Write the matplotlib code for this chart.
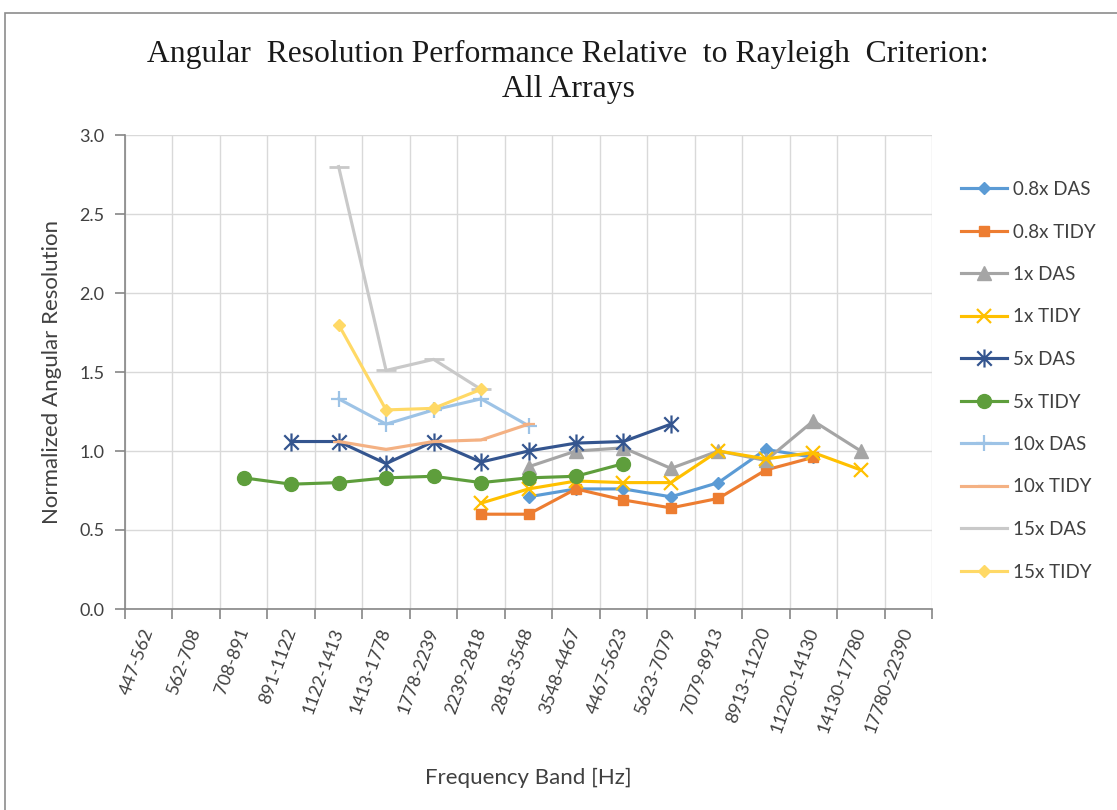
import numpy as np
import matplotlib
matplotlib.use("Agg")
import matplotlib.pyplot as plt
from matplotlib.path import Path
from matplotlib.patches import Rectangle

nan = np.nan

categories = ["447-562", "562-708", "708-891", "891-1122", "1122-1413", "1413-1778",
              "1778-2239", "2239-2818", "2818-3548", "3548-4467", "4467-5623",
              "5623-7079", "7079-8913", "8913-11220", "11220-14130", "14130-17780",
              "17780-22390"]

das_08 = [nan] * 8 + [0.71, 0.76, 0.76, 0.71, 0.80, 1.01, 0.96] + [nan] * 2
tidy_08 = [nan] * 7 + [0.60, 0.60, 0.76, 0.69, 0.64, 0.70, 0.88, 0.96] + [nan] * 2
das_1 = [nan] * 8 + [0.90, 1.00, 1.02, 0.89, 1.00, 0.94, 1.19, 1.00] + [nan]
tidy_1 = [nan] * 7 + [0.67, 0.76, 0.81, 0.80, 0.80, 1.00, 0.95, 0.99, 0.88] + [nan]
das_5 = [nan] * 3 + [1.06, 1.06, 0.92, 1.06, 0.93, 1.00, 1.05, 1.06, 1.17] + [nan] * 5
tidy_5 = [nan] * 2 + [0.83, 0.79, 0.80, 0.83, 0.84, 0.80, 0.83, 0.84, 0.92] + [nan] * 6
das_10 = [nan] * 4 + [1.33, 1.17, 1.26, 1.33, 1.16] + [nan] * 8
tidy_10 = [nan] * 4 + [1.06, 1.01, 1.06, 1.07, 1.17] + [nan] * 8
das_15 = [nan] * 4 + [2.80, 1.51, 1.58, 1.39] + [nan] * 9
tidy_15 = [nan] * 4 + [1.80, 1.26, 1.27, 1.39] + [nan] * 9

series_names = ["0.8x DAS", "0.8x TIDY", "1x DAS", "1x TIDY", "5x DAS", "5x TIDY",
                "10x DAS", "10x TIDY", "15x DAS", "15x TIDY"]
series_values = [das_08, tidy_08, das_1, tidy_1, das_5, tidy_5,
                 das_10, tidy_10, das_15, tidy_15]

# asterisk marker: an X crossed by a vertical bar
star_path = Path(
    [(-1, -1), (1, 1), (-1, 1), (1, -1), (0, -1.25), (0, 1.25)],
    [Path.MOVETO, Path.LINETO, Path.MOVETO, Path.LINETO, Path.MOVETO, Path.LINETO],
)

styles = [
    dict(color="#5B9BD5", marker="D", ms=6),
    dict(color="#ED7D31", marker="s", ms=7),
    dict(color="#A5A5A5", marker="^", ms=10),
    dict(color="#FFC000", marker="x", ms=10, mew=1.6),
    dict(color="#34558F", marker=star_path, ms=13, mew=1.6),
    dict(color="#5E9E3C", marker="o", ms=10),
    dict(color="#9DC3E6", marker="+", ms=11, mew=1.6),
    dict(color="#F4B183", marker="_", ms=8, mew=1.6),
    dict(color="#C9C9C9", marker="_", ms=14, mew=2.0),
    dict(color="#FFD966", marker="D", ms=6),
]

plt.rcParams["font.family"] = ["Lato", "DejaVu Sans"]

fig = plt.figure(figsize=(11.17, 8.10), dpi=100)
fig.patch.set_facecolor("white")

# chart frame
fig.add_artist(Rectangle((5 / 1117, -0.05), 1.2, 1 - 13 / 810 + 0.05,
                         transform=fig.transFigure, fill=False,
                         edgecolor="#8C8C8C", linewidth=1.2))

ax = fig.add_axes([125 / 1117, 201 / 810, 807 / 1117, 474 / 810])

x = np.arange(len(categories))
for name, vals, st in zip(series_names, series_values, styles):
    ax.plot(x, vals, label=name, linewidth=2.25, color=st["color"],
            marker=st["marker"], markersize=st["ms"],
            markeredgewidth=st.get("mew", 1.0),
            markerfacecolor=st["color"], markeredgecolor=st["color"])

ax.set_xlim(-0.5, len(categories) - 0.5)
ax.set_ylim(0, 3.0)
ax.set_yticks(np.arange(0, 3.01, 0.5))
ax.set_yticklabels([f"{v:.1f}" for v in np.arange(0, 3.01, 0.5)])

# boundaries carry the tick marks and gridlines, centres carry the labels
ax.set_xticks(np.arange(len(categories) + 1) - 0.5)
ax.set_xticklabels([])
ax.set_xticks(x, minor=True)
ax.set_xticklabels(categories, minor=True, rotation=70, ha="right",
                   va="center", rotation_mode="anchor")

grid_c = "#D9D9D9"
axis_c = "#868686"
ax.grid(True, which="major", color=grid_c, linewidth=1.0)
ax.set_axisbelow(True)
for s in ["top", "right"]:
    ax.spines[s].set_visible(False)
for s in ["left", "bottom"]:
    ax.spines[s].set_color(axis_c)
    ax.spines[s].set_linewidth(1.2)

ax.tick_params(axis="y", which="major", direction="out", length=7, width=1.2,
               color=axis_c, labelsize=13, labelcolor="#404040", pad=8)
ax.tick_params(axis="x", which="major", direction="out", length=7, width=1.2,
               color=axis_c)
ax.tick_params(axis="x", which="minor", length=0, labelsize=13,
               labelcolor="#404040", pad=14)

ax.set_ylabel("Normalized Angular Resolution", fontsize=16, color="#404040",
              labelpad=12)
ax.set_xlabel("Frequency Band [Hz]", fontsize=16, color="#404040", labelpad=23)

fig.text(568 / 1117, 1 - 72 / 810,
         "Angular  Resolution Performance Relative  to Rayleigh  Criterion:\nAll Arrays",
         ha="center", va="center", fontsize=22.8, family="Liberation Serif",
         color="#1A1A1A", linespacing=1.25)

leg = ax.legend(loc="upper left", bbox_to_anchor=(961 / 1117, 1 - 181 / 810),
                bbox_transform=fig.transFigure, frameon=False, fontsize=13.5,
                handlelength=2.45, handletextpad=0.3, labelspacing=1.36,
                borderaxespad=0, borderpad=0)
for t in leg.get_texts():
    t.set_color("#404040")

fig.savefig("out.png", dpi=100, facecolor="white")
